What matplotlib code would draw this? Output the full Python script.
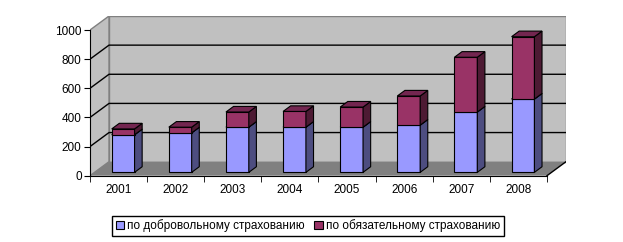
import matplotlib.pyplot as plt
from matplotlib.patches import Polygon, Patch

plt.rcParams['font.family'] = ['Liberation Sans', 'DejaVu Sans']

years = ['2001', '2002', '2003', '2004', '2005', '2006', '2007', '2008']
dobrovolnoe = [258, 271, 310, 310, 310, 324, 414, 503]
obyazatelnoe = [40, 39, 104, 108, 138, 200, 376, 428]
yticks = [0, 200, 400, 600, 800, 1000]

# Цвета в стиле Excel
blue = ['#9999ff', '#4d4d80', '#7373bf']   # фронт, бок, верх
red = ['#993366', '#4d1a33', '#732650']
wall = '#c0c0c0'
floor = '#808080'

# Псевдо-3D: сдвиг задней стенки (в единицах данных)
DX = 19 / 57.1
DY = 14 / 0.1456
d0, d1 = 0.24, 0.64   # глубина передней и задней граней столбика
w = 0.4               # ширина столбика

n = len(years)
x0, x1 = -0.5, n - 0.5
ymax = yticks[-1]

fig = plt.figure(figsize=(6.23, 2.42), dpi=100)
ax = fig.add_axes([90 / 623, (242 - 175.7) / 242, 476 / 623, 159.7 / 242])
ax.set_xlim(x0, x1 + DX)
ax.set_ylim(0, ymax + DY)

# стены и пол
ax.add_patch(Polygon([(x0 + DX, DY), (x1 + DX, DY), (x1 + DX, ymax + DY), (x0 + DX, ymax + DY)],
                     facecolor=wall, edgecolor='#808080', lw=1, zorder=0))
ax.add_patch(Polygon([(x0, 0), (x0 + DX, DY), (x0 + DX, ymax + DY), (x0, ymax)],
                     facecolor=wall, edgecolor='#808080', lw=1, zorder=0))
ax.add_patch(Polygon([(x0, 0), (x1, 0), (x1 + DX, DY), (x0 + DX, DY)],
                     facecolor=floor, edgecolor='none', zorder=0))
ax.plot([x1, x1 + DX], [0, DY], color='black', lw=1, zorder=1)

# линии сетки
for v in yticks[1:-1]:
    ax.plot([x0, x0 + DX, x1 + DX], [v, v + DY, v + DY], color='black', lw=1, zorder=1)


def draw_block(i, bottom, height, cols):
    left = i - w / 2 + d0 * DX
    b = bottom + d0 * DY
    ax.bar(left, height, width=w, bottom=b, align='edge',
           color=cols[0], edgecolor='black', lw=0.8, zorder=3)
    dx = (d1 - d0) * DX
    dy = (d1 - d0) * DY
    r = left + w
    ax.add_patch(Polygon([(r, b), (r + dx, b + dy), (r + dx, b + height + dy), (r, b + height)],
                         facecolor=cols[1], edgecolor='black', lw=0.8, zorder=3))
    ax.add_patch(Polygon([(left, b + height), (r, b + height), (r + dx, b + height + dy),
                          (left + dx, b + height + dy)],
                         facecolor=cols[2], edgecolor='black', lw=0.8, zorder=3))


for i in range(n):
    draw_block(i, 0, dobrovolnoe[i], blue)
    draw_block(i, dobrovolnoe[i], obyazatelnoe[i], red)

# оси
for s in ['top', 'right']:
    ax.spines[s].set_visible(False)
ax.spines['left'].set_bounds(0, ymax)
ax.spines['bottom'].set_bounds(x0, x1)
ax.spines['left'].set_zorder(2)
ax.spines['bottom'].set_zorder(2)
ax.set_yticks(yticks)
ax.set_yticklabels([str(v) for v in yticks], fontsize=8.5)
ax.set_xticks(range(n))
ax.set_xticklabels(years, fontsize=8.5)
ax.set_xticks([x0 + k for k in range(n + 1)], minor=True)
ax.tick_params(axis='x', which='major', length=0, pad=6)
ax.tick_params(axis='x', which='minor', length=4, direction='out')
ax.tick_params(axis='y', length=4, direction='out', pad=2)
ax.patch.set_visible(False)

handles = [Patch(facecolor=blue[0], edgecolor='black', lw=0.8),
           Patch(facecolor=red[0], edgecolor='black', lw=0.8)]
fig.legend(handles, ['по добровольному страхованию', 'по обязательному страхованию'],
           loc='center', bbox_to_anchor=(308 / 623, 1 - 226 / 242), ncol=2,
           fontsize=8.5, frameon=True, fancybox=False, edgecolor='black', framealpha=1,
           handlelength=0.7, handleheight=0.7, handletextpad=0.3, columnspacing=0.8,
           borderpad=0.3)

fig.savefig('out.png', dpi=100)
